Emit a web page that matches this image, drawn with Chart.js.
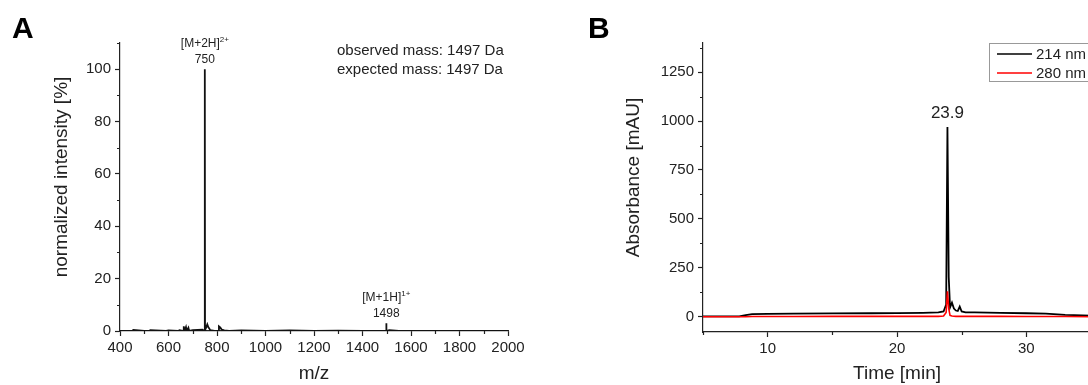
<!DOCTYPE html>
<html>
<head>
<meta charset="utf-8">
<title>MS and HPLC</title>
<script src="https://cdn.jsdelivr.net/npm/chart.js@4.4.1/dist/chart.umd.min.js"></script>
<style>
html, body { margin: 0; padding: 0; background: #fff; overflow: hidden; }
#wrap { position: relative; width: 1088px; height: 385px; overflow: hidden; }
#ms { position: absolute; left: 0; top: 0; }
#hplc { position: absolute; left: 560px; top: 0; }
</style>
</head>
<body>
<div id="wrap">
<canvas id="ms" width="560" height="385"></canvas>
<canvas id="hplc" width="600" height="385"></canvas>
</div>
<script>
// A: mass spectrum
const msMz = [400, 450, 455, 500, 520, 525, 590, 600, 640, 645, 660, 663, 666, 672, 675, 682, 685, 700, 740, 748,
    749.5, 750, 750.6, 752, 756, 760, 764, 768, 772, 790, 806, 808, 812, 816, 820, 830, 850, 900, 1000, 1100,
    1200, 1300, 1400, 1490, 1497, 1498, 1499, 1510, 1550, 1700, 1800, 1900, 2000];
const msIntensity = [0, 0, 0.4, 0, 0, 0.3, 0, 0.2, 0, 0.3, 0, 1.8, 0, 1.5, 0, 1.2, 0, 0.3, 0.5, 0,
    0, 100, 0, 2, 1.5, 2.5, 1.5, 1.0, 0.3, 0, 0, 1.8, 1.5, 1.0, 0.5, 0.2, 0, 0.2, 0, 0.2,
    0, 0.1, 0, 0, 0, 3, 0, 0.3, 0, 0, 0, 0, 0];

const msXTicks = [400, 600, 800, 1000, 1200, 1400, 1600, 1800, 2000];
const msXMinor = [500, 700, 900, 1100, 1300, 1500, 1700, 1900];
const msYTicks = [0, 20, 40, 60, 80, 100];
const msYMinor = [10, 30, 50, 70, 90, 110];

const peakMz = [750, 1498];
const peakIon = ["[M+2H]", "[M+1H]"];
const peakCharge = ["2+", "1+"];
const massNotes = ["observed mass: 1497 Da", "expected mass: 1497 Da"];

// B: HPLC trace
const hplcTime = [5, 7.8, 8.3, 8.8, 10, 12, 15, 18, 20, 22, 23.2, 23.6, 23.8, 23.9, 24.0, 24.1, 24.25, 24.4,
    24.55, 24.7, 24.85, 25.0, 25.3, 26, 28, 30, 31.5, 33, 35];
const abs214 = [0, 0, 6, 12, 13, 14, 15, 16, 17, 18, 20, 25, 60, 970, 200, 45, 70, 40,
    30, 28, 50, 25, 20, 20, 18, 16, 14, 8, 4];
const abs280 = [-2, -2, -2, -1, -1, -1, 0, 0, 0, 0, 0, 2, 20, 128, 40, 5, 2, 1,
    0, 0, 0, 0, 0, 0, 0, -1, -1, -1, -2];

const hplcXTicks = [10, 20, 30];
const hplcXMinor = [5, 15, 25, 35];
const hplcYTicks = [0, 250, 500, 750, 1000, 1250];
const hplcYMinor = [125, 375, 625, 875, 1125, 1375];
const peakTime = 23.9;

Chart.defaults.font.family = "'Liberation Sans', Arial, sans-serif";
Chart.defaults.color = "#222";

const ink = "#222";
const family = "'Liberation Sans', Arial, sans-serif";

function points(xs, ys) {
    return xs.map((x, i) => ({ x: x, y: ys[i] }));
}

function axis(opts) {
    return {
        type: "linear",
        min: opts.min,
        max: opts.max,
        border: { color: ink, width: 1.2 },
        grid: { drawOnChartArea: false, color: ink, tickLength: 5, tickWidth: 1.2 },
        ticks: {
            font: { size: 15 },
            color: ink,
            padding: opts.pad,
            autoSkip: false,
            maxRotation: 0,
            callback: (v) => String(v)
        },
        title: { display: !!opts.title, text: opts.title, font: { size: 19 }, color: ink, padding: 0 },
        afterBuildTicks: (s) => { s.ticks = opts.ticks.map((v) => ({ value: v })); },
        afterFit: (s) => {
            if (opts.width) s.width = opts.width;
            if (opts.height) s.height = opts.height;
        }
    };
}

function drawMinor(chart, id, values) {
    const ctx = chart.ctx;
    const s = chart.scales[id];
    const a = chart.chartArea;
    ctx.save();
    ctx.strokeStyle = ink;
    ctx.lineWidth = 1.2;
    ctx.beginPath();
    values.forEach((v) => {
        const p = Math.round(s.getPixelForValue(v)) + 0.5;
        if (s.isHorizontal()) {
            ctx.moveTo(p, a.bottom);
            ctx.lineTo(p, a.bottom + 3);
        } else {
            ctx.moveTo(a.left - 3, p);
            ctx.lineTo(a.left, p);
        }
    });
    ctx.stroke();
    ctx.restore();
}

// rotated y title, sits a little above the axis middle like the original
function yTitle(chart, text, x) {
    const ctx = chart.ctx;
    const a = chart.chartArea;
    ctx.save();
    ctx.fillStyle = ink;
    ctx.font = "19px " + family;
    ctx.textAlign = "center";
    ctx.textBaseline = "middle";
    ctx.translate(x, (a.top + a.bottom) / 2 - 10);
    ctx.rotate(-Math.PI / 2);
    ctx.fillText(text, 0, 0);
    ctx.restore();
}

function panelLetter(ctx, text, x) {
    ctx.save();
    ctx.fillStyle = "#000";
    ctx.font = "bold 30px " + family;
    ctx.textBaseline = "alphabetic";
    ctx.fillText(text, x, 38);
    ctx.restore();
}

const msDecor = {
    id: "msDecor",
    afterDraw(chart) {
        const ctx = chart.ctx;
        const x = chart.scales.x;
        const y = chart.scales.y;
        const a = chart.chartArea;

        drawMinor(chart, "x", msXMinor);
        drawMinor(chart, "y", msYMinor);
        yTitle(chart, "normalized intensity [%]", 62);
        panelLetter(ctx, "A", 12);

        ctx.save();
        ctx.fillStyle = ink;
        ctx.textBaseline = "middle";

        // peak labels
        peakMz.forEach((mz, i) => {
            const px = x.getPixelForValue(mz);
            const py = y.getPixelForValue(msIntensity[msMz.indexOf(mz)]);
            ctx.font = "12px " + family;
            ctx.textAlign = "center";
            ctx.fillText(String(mz), px, py - 9);
            const w1 = ctx.measureText(peakIon[i]).width;
            ctx.font = "8px " + family;
            const w2 = ctx.measureText(peakCharge[i]).width;
            const left = px - (w1 + w2) / 2;
            ctx.textAlign = "left";
            ctx.fillText(peakCharge[i], left + w1, py - 29);
            ctx.font = "12px " + family;
            ctx.fillText(peakIon[i], left, py - 25);
        });

        ctx.font = "15px " + family;
        ctx.textAlign = "left";
        massNotes.forEach((t, i) => {
            ctx.fillText(t, a.right - 171, a.top + 8 + i * 19);
        });
        ctx.restore();
    }
};

const hplcDecor = {
    id: "hplcDecor",
    afterDraw(chart) {
        const ctx = chart.ctx;
        const x = chart.scales.x;
        const y = chart.scales.y;
        const a = chart.chartArea;

        drawMinor(chart, "x", hplcXMinor);
        drawMinor(chart, "y", hplcYMinor);
        yTitle(chart, "Absorbance [mAU]", 74);
        panelLetter(ctx, "B", 28);

        ctx.save();
        ctx.fillStyle = ink;
        ctx.textBaseline = "middle";
        ctx.textAlign = "center";
        ctx.font = "17px " + family;
        const top = abs214[hplcTime.indexOf(peakTime)];
        ctx.fillText(peakTime.toFixed(1), x.getPixelForValue(peakTime), y.getPixelForValue(top) - 14);

        // legend box
        const lx = a.right - 102;
        const ly = a.top;
        ctx.strokeStyle = "#999";
        ctx.lineWidth = 1;
        ctx.strokeRect(lx + 0.5, ly + 0.5, 110, 38);
        ctx.font = "15px " + family;
        ctx.textAlign = "left";
        const sets = [chart.data.datasets[1], chart.data.datasets[0]];
        sets.forEach((d, i) => {
            const yy = ly + 11 + i * 19;
            ctx.strokeStyle = d.borderColor;
            ctx.lineWidth = 1.5;
            ctx.beginPath();
            ctx.moveTo(lx + 8, yy);
            ctx.lineTo(lx + 43, yy);
            ctx.stroke();
            ctx.fillStyle = ink;
            ctx.fillText(d.label, lx + 47, yy + 1);
        });
        ctx.restore();
    }
};

new Chart(document.getElementById("ms"), {
    type: "scatter",
    data: {
        datasets: [
            {
                label: "MS",
                data: points(msMz, msIntensity),
                showLine: true,
                borderColor: "#111",
                borderWidth: 1.8,
                pointRadius: 0,
                tension: 0
            }
        ]
    },
    options: {
        responsive: false,
        animation: false,
        layout: { padding: { top: 43, right: 52, left: 0, bottom: 0 } },
        plugins: { legend: { display: false }, tooltip: { enabled: false } },
        scales: {
            x: axis({ min: 400, max: 2000, ticks: msXTicks, pad: 3, title: "m/z", height: 54 }),
            y: axis({ min: 0, max: 110, ticks: msYTicks, pad: 4, width: 120 })
        }
    },
    plugins: [msDecor]
});

new Chart(document.getElementById("hplc"), {
    type: "scatter",
    data: {
        datasets: [
            {
                label: "280 nm",
                data: points(hplcTime, abs280),
                showLine: true,
                borderColor: "#ff0000",
                borderWidth: 1.6,
                pointRadius: 0,
                order: 0
            },
            {
                label: "214 nm",
                data: points(hplcTime, abs214),
                showLine: true,
                borderColor: "#000",
                borderWidth: 1.8,
                pointRadius: 0,
                order: 1
            }
        ]
    },
    options: {
        responsive: false,
        animation: false,
        layout: { padding: { top: 43, right: 69, left: 0, bottom: 0 } },
        plugins: { legend: { display: false }, tooltip: { enabled: false } },
        scales: {
            x: axis({ min: 5, max: 35, ticks: hplcXTicks, pad: 3, title: "Time [min]", height: 53 }),
            y: axis({ min: -80, max: 1400, ticks: hplcYTicks, pad: 4, width: 143 })
        }
    },
    plugins: [hplcDecor]
});
</script>
</body>
</html>
